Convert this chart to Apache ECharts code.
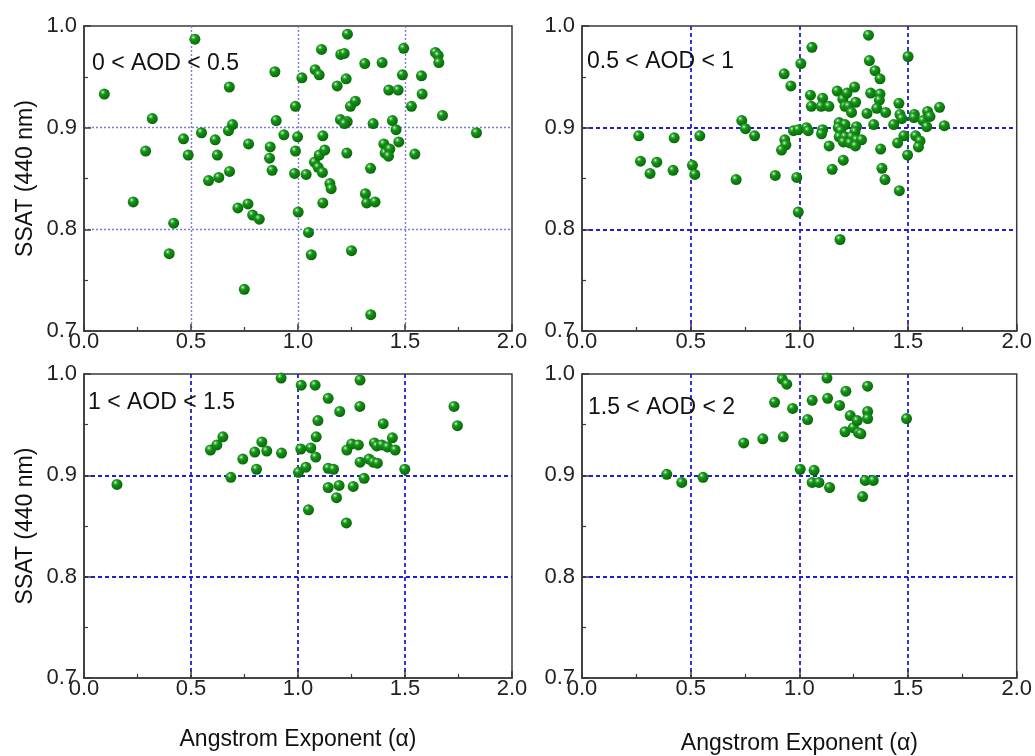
<!DOCTYPE html>
<html>
<head>
<meta charset="utf-8">
<script src="https://cdn.jsdelivr.net/npm/echarts@6/dist/echarts.min.js"></script>
<style>
html,body{margin:0;padding:0;background:#fff;}
#main{width:1035px;height:756px;}
</style>
</head>
<body>
<div id="main"></div>
<script>
// ---- data: [Angstrom exponent, SSAT(440nm)] ----
var panelLabels = ['0 < AOD < 0.5', '0.5 < AOD < 1', '1 < AOD < 1.5', '1.5 < AOD < 2'];
var xTicks = [0.0, 0.5, 1.0, 1.5, 2.0];
var yTicks = [0.7, 0.8, 0.9, 1.0];
var xTitle = 'Angstrom Exponent (\u03b1)';
var yTitle = 'SSAT (440 nm)';

var aod0to05 = [
[0.095,0.933],[0.230,0.827],[0.288,0.877],[0.319,0.909],[0.398,0.776],[0.419,0.806],[0.518,0.987],
[0.465,0.889],[0.487,0.873],[0.549,0.895],[0.582,0.848],[0.613,0.888],[0.623,0.873],[0.630,0.851],
[0.679,0.940],[0.675,0.897],[0.694,0.903],[0.680,0.857],[0.719,0.821],[0.766,0.825],[0.769,0.884],
[0.788,0.814],[0.819,0.810],[0.749,0.741],[0.892,0.955],[0.898,0.907],[0.934,0.893],[0.870,0.881],
[0.867,0.870],[0.879,0.858],[0.988,0.921],[0.988,0.877],[0.998,0.891],[0.984,0.855],[1.001,0.817],
[1.018,0.949],[1.038,0.854],[1.049,0.797],[1.062,0.775],[1.080,0.957],[1.099,0.952],[1.110,0.977],
[1.077,0.866],[1.099,0.873],[1.094,0.861],[1.116,0.892],[1.125,0.878],[1.114,0.856],[1.149,0.845],
[1.155,0.840],[1.116,0.826],[1.183,0.941],[1.200,0.972],[1.216,0.973],[1.231,0.992],[1.225,0.948],
[1.245,0.921],[1.268,0.926],[1.198,0.908],[1.230,0.906],[1.217,0.904],[1.228,0.875],[1.250,0.779],
[1.312,0.963],[1.339,0.860],[1.315,0.835],[1.321,0.826],[1.360,0.827],[1.340,0.716],[1.351,0.904],
[1.393,0.964],[1.424,0.937],[1.468,0.937],[1.441,0.907],[1.458,0.898],[1.471,0.886],[1.401,0.884],
[1.407,0.875],[1.429,0.879],[1.423,0.872],[1.494,0.978],[1.488,0.952],[1.530,0.921],[1.546,0.874],
[1.577,0.951],[1.580,0.933],[1.642,0.974],[1.655,0.971],[1.658,0.964],[1.675,0.912],[1.834,0.895]
];

var aod05to1 = [
[0.261,0.892],[0.269,0.867],[0.313,0.855],[0.344,0.866],[0.424,0.890],[0.419,0.858],[0.508,0.863],
[0.519,0.854],[0.542,0.892],[0.709,0.849],[0.735,0.907],[0.752,0.899],[0.794,0.892],[0.889,0.853],
[0.930,0.953],[0.961,0.941],[0.933,0.888],[0.938,0.883],[0.918,0.878],[0.973,0.897],[0.995,0.898],
[0.988,0.851],[0.995,0.817],[1.007,0.963],[1.058,0.979],[1.033,0.900],[1.041,0.897],[1.051,0.932],
[1.055,0.921],[1.107,0.929],[1.100,0.921],[1.136,0.921],[1.107,0.898],[1.102,0.894],[1.137,0.882],
[1.151,0.859],[1.174,0.936],[1.200,0.928],[1.219,0.934],[1.254,0.940],[1.210,0.921],[1.226,0.921],
[1.259,0.925],[1.240,0.915],[1.183,0.905],[1.210,0.903],[1.179,0.900],[1.190,0.897],[1.263,0.901],
[1.256,0.896],[1.183,0.891],[1.210,0.891],[1.240,0.891],[1.202,0.886],[1.232,0.885],[1.263,0.888],
[1.286,0.888],[1.258,0.882],[1.202,0.868],[1.187,0.790],[1.318,0.991],[1.322,0.966],[1.348,0.956],
[1.371,0.948],[1.328,0.934],[1.371,0.933],[1.368,0.927],[1.356,0.919],[1.311,0.914],[1.342,0.903],
[1.397,0.915],[1.434,0.903],[1.458,0.924],[1.463,0.913],[1.471,0.909],[1.481,0.892],[1.452,0.885],
[1.374,0.879],[1.380,0.860],[1.394,0.849],[1.460,0.838],[1.500,0.970],[1.498,0.873],[1.529,0.913],
[1.527,0.910],[1.535,0.892],[1.555,0.887],[1.548,0.881],[1.569,0.907],[1.590,0.916],[1.601,0.911],
[1.586,0.901],[1.645,0.920],[1.667,0.902]
];

var aod1to15 = [
[0.154,0.891],[0.591,0.925],[0.621,0.930],[0.649,0.938],[0.686,0.898],[0.742,0.916],[0.798,0.923],
[0.806,0.906],[0.831,0.933],[0.854,0.924],[0.921,0.996],[0.923,0.922],[1.015,0.989],[1.080,0.989],
[1.013,0.926],[1.002,0.903],[1.037,0.908],[1.060,0.927],[1.083,0.918],[1.085,0.938],[1.093,0.954],
[1.049,0.866],[1.141,0.976],[1.195,0.963],[1.141,0.907],[1.166,0.906],[1.141,0.888],[1.192,0.890],
[1.180,0.878],[1.226,0.853],[1.228,0.925],[1.251,0.931],[1.282,0.930],[1.258,0.889],[1.289,0.968],
[1.290,0.994],[1.290,0.913],[1.309,0.897],[1.332,0.916],[1.357,0.932],[1.368,0.929],[1.351,0.913],
[1.371,0.912],[1.398,0.951],[1.391,0.930],[1.418,0.928],[1.441,0.937],[1.454,0.925],[1.499,0.906],
[1.729,0.968],[1.745,0.949]
];

var aod15to2 = [
[0.390,0.901],[0.459,0.893],[0.557,0.898],[0.744,0.932],[0.832,0.936],[0.926,0.938],[0.886,0.972],
[0.921,0.995],[0.942,0.990],[0.969,0.966],[1.004,0.906],[1.038,0.955],[1.059,0.974],[1.068,0.905],
[1.059,0.893],[1.090,0.893],[1.139,0.888],[1.127,0.996],[1.130,0.976],[1.185,0.969],[1.214,0.983],
[1.210,0.943],[1.234,0.959],[1.248,0.947],[1.266,0.954],[1.272,0.942],[1.283,0.941],[1.314,0.988],
[1.314,0.963],[1.314,0.956],[1.291,0.879],[1.303,0.895],[1.340,0.895],[1.493,0.956]
];

var panelData = [aod0to05, aod05to1, aod1to15, aod15to2];

// ---- layout / style ----
var FONT = '"Liberation Sans", Arial, sans-serif';
var grids = [
  {left: 84, top: 26, width: 428, height: 305},
  {left: 582, top: 26, width: 435, height: 305},
  {left: 84, top: 374, width: 428, height: 304},
  {left: 582, top: 374, width: 435, height: 304}
];
var labelPos = [[92, 52], [587, 50], [88, 391], [588, 396]];

function gridLine(i) {
  if (i === 0) {
    return {color: '#7a7ad8', width: 1.4, type: [2, 2], opacity: 1};
  }
  return {color: '#1f1fd0', width: 1.8, type: [4, 3], opacity: 1};
}

function sphere() {
  return {
    type: 'radial', x: 0.36, y: 0.32, r: 0.75,
    colorStops: [
      {offset: 0, color: '#f2fff2'},
      {offset: 0.14, color: '#5fc25f'},
      {offset: 0.34, color: '#16901a'},
      {offset: 0.75, color: '#0a780a'},
      {offset: 1, color: '#035803'}
    ]
  };
}

var option = {
  animation: false,
  backgroundColor: '#ffffff',
  title: [],
  grid: [],
  xAxis: [],
  yAxis: [],
  series: []
};

for (var i = 0; i < 4; i++) {
  option.grid.push({
    left: grids[i].left, top: grids[i].top, width: grids[i].width, height: grids[i].height,
    show: true, borderColor: '#3a3a3a', borderWidth: 1.5, backgroundColor: 'transparent'
  });
  option.title.push({
    text: panelLabels[i], left: labelPos[i][0], top: labelPos[i][1], padding: 0,
    textStyle: {fontFamily: FONT, fontSize: 23, fontWeight: 'normal', color: '#111'}
  });
  option.xAxis.push({
    type: 'value', gridIndex: i, min: xTicks[0], max: xTicks[xTicks.length - 1], interval: 0.5,
    name: (i >= 2) ? xTitle : '', nameLocation: 'middle', nameGap: (i === 2 ? 50 : 54),
    nameTextStyle: {fontFamily: FONT, fontSize: 23, color: '#111'},
    axisLine: {show: true, onZero: false, lineStyle: {color: '#3a3a3a', width: 1.5}},
    axisTick: {show: true, inside: true, length: 7, lineStyle: {color: '#3a3a3a', width: 1.5}},
    minorTick: {show: true, splitNumber: 2, length: 4, lineStyle: {color: '#3a3a3a', width: 1.2}},
    minorSplitLine: {show: false},
    axisLabel: {fontFamily: FONT, fontSize: 22, color: '#222', margin: 0,
      formatter: function (v) { return v.toFixed(1); }},
    splitLine: {show: true, showMinLine: false, showMaxLine: false, lineStyle: gridLine(i)}
  });
  option.yAxis.push({
    type: 'value', gridIndex: i, min: yTicks[0], max: yTicks[yTicks.length - 1], interval: 0.1,
    name: (i % 2 === 0) ? yTitle : '', nameLocation: 'middle', nameGap: 47,
    nameTextStyle: {fontFamily: FONT, fontSize: 23, color: '#111'},
    axisLine: {show: true, onZero: false, lineStyle: {color: '#3a3a3a', width: 1.5}},
    axisTick: {show: true, inside: true, length: 7, lineStyle: {color: '#3a3a3a', width: 1.5}},
    minorTick: {show: true, splitNumber: 2, length: 4, lineStyle: {color: '#3a3a3a', width: 1.2}},
    minorSplitLine: {show: false},
    axisLabel: {fontFamily: FONT, fontSize: 22, color: '#222', margin: 7,
      formatter: function (v) { return v.toFixed(1); }},
    splitLine: {show: true, showMinLine: false, showMaxLine: false, lineStyle: gridLine(i)}
  });
  option.series.push({
    type: 'scatter', xAxisIndex: i, yAxisIndex: i, data: panelData[i],
    symbol: 'circle', symbolSize: 11,
    itemStyle: {color: sphere(), borderWidth: 0, opacity: 1},
    emphasis: {disabled: true}
  });
}

var chart = echarts.init(document.getElementById('main'), null, {renderer: 'canvas'});
chart.setOption(option);
</script>
</body>
</html>
